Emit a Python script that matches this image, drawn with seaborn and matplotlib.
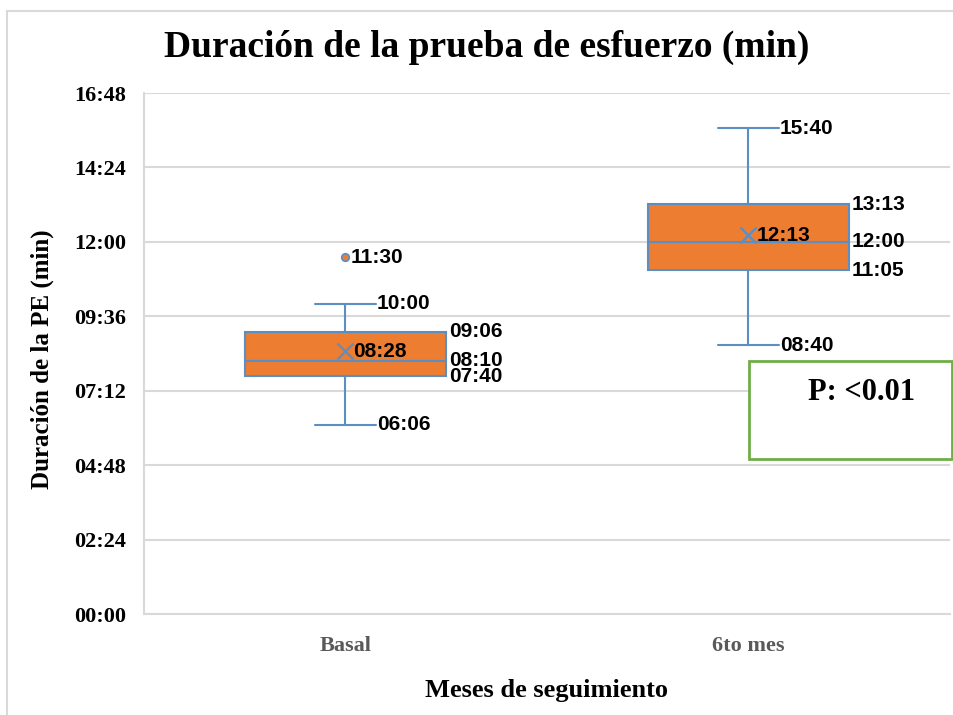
import matplotlib
matplotlib.use("Agg")
import matplotlib.pyplot as plt
import matplotlib.ticker as mticker
from matplotlib.lines import Line2D
from matplotlib.patches import Rectangle
import seaborn as sns
import pandas as pd

# box plot summary (mm:ss)
categories = ["Basal", "6to mes"]
whisker_low = ["06:06", "08:40"]
q1 = ["07:40", "11:05"]
median = ["08:10", "12:00"]
q3 = ["09:06", "13:13"]
whisker_high = ["10:00", "15:40"]
means = ["08:28", "12:13"]
outliers = [["11:30"], []]
p_text = "P: <0.01"

title = "Duración de la prueba de esfuerzo (min)"
ylabel = "Duración de la PE (min)"
xlabel = "Meses de seguimiento"


def to_sec(s):
    m, ss = s.split(":")
    return int(m) * 60 + int(ss)


def fmt_mmss(v, pos=None):
    v = int(round(v))
    return "%02d:%02d" % (v // 60, v % 60)


ORANGE = "#ED7D31"
BLUE = "#5B8EC2"
GRID = "#D9D9D9"

sns.set_style("white")
plt.rcParams["text.color"] = "black"
serif = ["Liberation Serif", "DejaVu Serif"]
sans = ["Liberation Sans", "DejaVu Sans"]

fig = plt.figure(figsize=(9.54, 7.15), dpi=100)
ax = fig.add_axes([144 / 954, 101 / 715, 806 / 954, 521 / 715])

positions = list(range(len(categories)))

stats = []
for i, cat in enumerate(categories):
    stats.append(dict(label=cat,
                      whislo=to_sec(whisker_low[i]),
                      q1=to_sec(q1[i]),
                      med=to_sec(median[i]),
                      q3=to_sec(q3[i]),
                      whishi=to_sec(whisker_high[i]),
                      mean=to_sec(means[i]),
                      fliers=[to_sec(o) for o in outliers[i]]))

ax.bxp(stats, positions=positions, widths=0.5, capwidths=0.15,
       patch_artist=True, showfliers=False, showmeans=False,
       boxprops=dict(facecolor=ORANGE, edgecolor=BLUE, linewidth=1.5),
       medianprops=dict(color=BLUE, linewidth=1.5),
       whiskerprops=dict(color=BLUE, linewidth=1.5),
       capprops=dict(color=BLUE, linewidth=1.5), zorder=2)

# mean markers and outliers
mean_df = pd.DataFrame({"pos": positions, "sec": [to_sec(m) for m in means]})
sns.scatterplot(data=mean_df, x="pos", y="sec", marker="x", s=130,
                color=BLUE, linewidth=1.6, ax=ax, zorder=4)

out_rows = []
for i, lst in enumerate(outliers):
    for o in lst:
        out_rows.append({"pos": positions[i], "sec": to_sec(o), "label": o})
out_df = pd.DataFrame(out_rows)
sns.scatterplot(data=out_df, x="pos", y="sec", marker="o", s=30,
                color=ORANGE, edgecolor=BLUE, linewidth=1.2, ax=ax, zorder=4)

# value labels
lab_kw = dict(textcoords="offset points", ha="left", va="center",
              fontsize=15, fontweight="bold", family=sans, color="black",
              zorder=5)
for i in positions:
    cap_end = i + 0.075
    box_end = i + 0.25
    ax.annotate(whisker_high[i], (cap_end, to_sec(whisker_high[i])),
                xytext=(1, 0), **lab_kw)
    ax.annotate(whisker_low[i], (cap_end, to_sec(whisker_low[i])),
                xytext=(1, 0), **lab_kw)
    for v in (q3[i], median[i], q1[i]):
        ax.annotate(v, (box_end, to_sec(v)), xytext=(2, 0), **lab_kw)
    ax.annotate(means[i], (i, to_sec(means[i])), xytext=(5.5, 0), **lab_kw)
for _, r in out_df.iterrows():
    ax.annotate(r["label"], (r["pos"], r["sec"]), xytext=(3.5, 0), **lab_kw)

# axes
ax.set_xlim(-0.5, len(categories) - 0.5)
ax.set_ylim(0, 1008)
ax.yaxis.set_major_locator(mticker.MultipleLocator(144))
ax.yaxis.set_major_formatter(mticker.FuncFormatter(fmt_mmss))
ax.set_xticks(positions)
ax.set_xticklabels(categories)
ax.yaxis.grid(True, color=GRID, linewidth=1.5)
ax.xaxis.grid(False)
ax.set_axisbelow(True)
for side in ("top", "right"):
    ax.spines[side].set_visible(False)
for side in ("left", "bottom"):
    ax.spines[side].set_color(GRID)
    ax.spines[side].set_linewidth(1.5)

ax.tick_params(axis="y", length=0, pad=13)
ax.tick_params(axis="x", length=0, pad=16)
for t in ax.get_yticklabels():
    t.set_fontfamily(serif)
    t.set_fontweight("bold")
    t.set_fontsize(16)
    t.set_color("black")
for t in ax.get_xticklabels():
    t.set_fontfamily(serif)
    t.set_fontweight("bold")
    t.set_fontsize(16)
    t.set_color("#595959")

ax.set_xlabel(xlabel, family=serif, fontweight="bold", fontsize=19,
              color="black")
ax.xaxis.set_label_coords(0.5, -0.125)
ax.set_ylabel(ylabel, family=serif, fontweight="bold", fontsize=18,
              color="black")
ax.yaxis.set_label_coords(-0.112, 0.49)

fig.text(487 / 954, 1 - 47 / 715, title, family=serif, fontweight="bold",
         fontsize=27, ha="center", va="center", color="black")

# p-value box
fig.patches.append(Rectangle((749 / 954, 1 - 459 / 715), 203 / 954, 98 / 715,
                             transform=fig.transFigure, facecolor="white",
                             edgecolor="#70AD47", linewidth=2, zorder=3))
fig.text(862 / 954, 1 - 392 / 715, p_text, family=serif, fontweight="bold",
         fontsize=22, ha="center", va="center", color="black", zorder=4)

# chart border (left and top edges visible)
fig.add_artist(Line2D([7.5 / 954, 7.5 / 954], [0, 1 - 11 / 715],
                      transform=fig.transFigure, color=GRID, linewidth=1.5))
fig.add_artist(Line2D([7.5 / 954, 1], [1 - 11 / 715, 1 - 11 / 715],
                      transform=fig.transFigure, color=GRID, linewidth=1.5))

fig.savefig("out.png", dpi=100)
